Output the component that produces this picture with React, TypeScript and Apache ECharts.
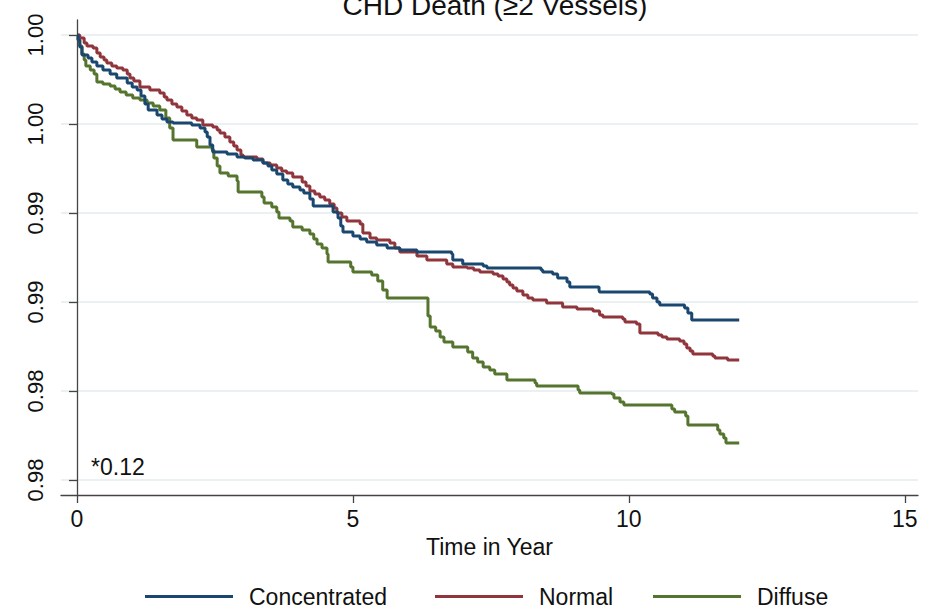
import React, { useEffect, useRef } from "react";
import * as echarts from "echarts";

const seriesNames = ["Concentrated", "Normal", "Diffuse"];
const seriesColors = ["#1a476f", "#90353b", "#55752f"];

const xTickValues = [0, 5, 10, 15];
const yTickValues = [0.975, 0.98, 0.985, 0.99, 0.995, 1.0];
const yTickLabels = ["0.98", "0.98", "0.99", "0.99", "1.00", "1.00"];

const concentrated: [number, number][] = [
  [0, 1.0], [0.02, 0.99972], [0.05, 0.99933], [0.09, 0.99888], [0.2, 0.99871], [0.27, 0.99848],
  [0.36, 0.99826], [0.47, 0.99803], [0.6, 0.99781], [0.72, 0.99758], [0.91, 0.9973], [1.0, 0.99708],
  [1.09, 0.99691], [1.16, 0.99657], [1.23, 0.99612], [1.29, 0.99579], [1.45, 0.99551], [1.54, 0.99528],
  [1.63, 0.99511], [1.74, 0.99506], [2.08, 0.99494], [2.23, 0.99478], [2.32, 0.99455], [2.36, 0.99427],
  [2.41, 0.99382], [2.46, 0.99343], [2.72, 0.99331], [2.9, 0.99315], [3.04, 0.99309], [3.19, 0.99298],
  [3.37, 0.99281], [3.46, 0.99264], [3.53, 0.99242], [3.62, 0.99219], [3.73, 0.99185], [3.82, 0.99163],
  [3.91, 0.99146], [4.04, 0.99129], [4.11, 0.99112], [4.22, 0.99079], [4.28, 0.99039], [4.64, 0.99006],
  [4.73, 0.98972], [4.78, 0.98927], [4.82, 0.98893], [5.0, 0.98871], [5.13, 0.98854], [5.25, 0.98837],
  [5.43, 0.9882], [5.62, 0.98803], [5.85, 0.98792], [6.16, 0.98781], [6.79, 0.9877], [6.81, 0.98736],
  [6.99, 0.98713], [7.36, 0.98702], [7.43, 0.98691], [8.41, 0.9868], [8.44, 0.98669], [8.62, 0.98657],
  [8.71, 0.98635], [8.88, 0.98612], [8.93, 0.98584], [9.46, 0.98567], [9.47, 0.98556], [10.38, 0.98545],
  [10.43, 0.98522], [10.51, 0.985], [10.56, 0.98483], [11.01, 0.98466], [11.07, 0.98438], [11.14, 0.98399],
  [12.0, 0.98399],
];

const normal: [number, number][] = [
  [0, 1.0], [0.05, 0.99983], [0.13, 0.99955], [0.18, 0.99938], [0.29, 0.99927], [0.36, 0.99899],
  [0.42, 0.99876], [0.49, 0.9986], [0.54, 0.99843], [0.63, 0.99826], [0.72, 0.99815], [0.83, 0.99803],
  [0.91, 0.99781], [0.96, 0.99758], [1.03, 0.99742], [1.14, 0.99708], [1.32, 0.99691], [1.5, 0.99674],
  [1.58, 0.99652], [1.63, 0.99635], [1.72, 0.99612], [1.81, 0.99596], [1.9, 0.99573], [1.99, 0.99551],
  [2.08, 0.99534], [2.17, 0.99522], [2.28, 0.99494], [2.46, 0.99483], [2.54, 0.99466], [2.59, 0.99449],
  [2.68, 0.99427], [2.77, 0.99399], [2.84, 0.99376], [2.9, 0.99354], [2.97, 0.99326], [3.01, 0.99315],
  [3.26, 0.99303], [3.37, 0.99281], [3.5, 0.9927], [3.62, 0.99253], [3.71, 0.99236], [3.8, 0.99225],
  [3.91, 0.99202], [4.08, 0.99174], [4.15, 0.99152], [4.22, 0.99124], [4.31, 0.99107], [4.4, 0.9909],
  [4.49, 0.99073], [4.58, 0.99051], [4.66, 0.99028], [4.71, 0.99], [4.8, 0.98978], [4.89, 0.98955],
  [5.13, 0.98938], [5.18, 0.98888], [5.31, 0.9886], [5.43, 0.98848], [5.67, 0.98831], [5.76, 0.98803],
  [5.85, 0.98781], [6.16, 0.98758], [6.34, 0.98736], [6.7, 0.98713], [6.81, 0.98697], [7.07, 0.98691],
  [7.19, 0.9868], [7.3, 0.98669], [7.54, 0.98657], [7.63, 0.98646], [7.72, 0.98629], [7.79, 0.98612],
  [7.84, 0.98596], [7.9, 0.98579], [7.97, 0.98562], [8.08, 0.98539], [8.17, 0.98522], [8.26, 0.98511],
  [8.51, 0.98494], [8.8, 0.98472], [9.06, 0.98461], [9.35, 0.98449], [9.47, 0.98427], [9.53, 0.98416],
  [9.89, 0.98404], [9.93, 0.98388], [10.14, 0.98376], [10.2, 0.98326], [10.53, 0.98315], [10.6, 0.98303],
  [10.69, 0.98292], [10.92, 0.98281], [11.0, 0.98264], [11.05, 0.98242], [11.11, 0.98225], [11.16, 0.98208],
  [11.52, 0.98197], [11.56, 0.98185], [11.79, 0.98174], [12.0, 0.98174],
];

const diffuse: [number, number][] = [
  [0, 1.0], [0.02, 0.99972], [0.05, 0.99938], [0.09, 0.99893], [0.13, 0.9986], [0.16, 0.99826],
  [0.24, 0.99803], [0.31, 0.99781], [0.36, 0.99736], [0.47, 0.99725], [0.6, 0.99713], [0.69, 0.99697],
  [0.78, 0.9968], [0.89, 0.99663], [1.01, 0.99646], [1.14, 0.99635], [1.27, 0.99618], [1.38, 0.99601],
  [1.5, 0.99579], [1.61, 0.99534], [1.68, 0.99478], [1.74, 0.9941], [2.17, 0.99371], [2.45, 0.99354],
  [2.48, 0.99309], [2.54, 0.99264], [2.59, 0.99225], [2.74, 0.99208], [2.9, 0.9918], [2.92, 0.99118],
  [3.35, 0.9909], [3.39, 0.99056], [3.53, 0.99034], [3.62, 0.99006], [3.66, 0.98972], [3.86, 0.98955],
  [3.91, 0.98921], [4.08, 0.98904], [4.22, 0.98882], [4.29, 0.98854], [4.35, 0.98826], [4.44, 0.98803],
  [4.53, 0.9877], [4.55, 0.98725], [4.96, 0.98697], [5.0, 0.98669], [5.34, 0.98652], [5.45, 0.98618],
  [5.54, 0.98567], [5.62, 0.98522], [6.36, 0.98421], [6.4, 0.9836], [6.5, 0.98337], [6.58, 0.98303],
  [6.65, 0.98275], [6.81, 0.98247], [7.08, 0.98219], [7.17, 0.98185], [7.26, 0.98163], [7.36, 0.98135],
  [7.48, 0.98118], [7.57, 0.98096], [7.79, 0.98062], [8.3, 0.98045], [8.33, 0.98028], [9.08, 0.98006],
  [9.11, 0.97989], [9.69, 0.97983], [9.73, 0.97961], [9.84, 0.97938], [9.91, 0.97921], [10.78, 0.97899],
  [10.83, 0.97882], [11.03, 0.9786], [11.07, 0.97809], [11.61, 0.97781], [11.65, 0.97758], [11.72, 0.97736],
  [11.76, 0.97708], [12.0, 0.97708],
];

const seriesData = [concentrated, normal, diffuse];

const FONT = "'Liberation Sans', Arial, Helvetica, sans-serif";
const legendLefts = [140, 430, 648];

export default function App() {
  const ref = useRef<HTMLDivElement>(null);
  useEffect(() => {
    if (!ref.current) return;
    const chart = echarts.init(ref.current, null, { renderer: "svg" });
    chart.setOption({
      animation: false,
      backgroundColor: "#ffffff",
      textStyle: { fontFamily: FONT },
      title: {
        text: "CHD Death (\u22652 Vessels)",
        left: 490,
        top: -14,
        textAlign: "center",
        textStyle: { fontSize: 28, fontWeight: "normal", color: "#111", fontFamily: FONT },
      },
      grid: { left: 61, right: 13, top: 20, bottom: 118, containLabel: false, outerBoundsMode: "none" },
      legend: seriesNames.map((n, i) => ({
        left: legendLefts[i],
        top: 580,
        icon: "rect",
        itemWidth: 88,
        itemHeight: 3,
        data: [n],
        textStyle: { fontSize: 23, color: "#111", fontFamily: FONT, padding: [0, 0, 0, 11] },
      })),
      xAxis: {
        type: "value",
        min: -0.29,
        max: 15.24,
        name: "Time in Year",
        nameLocation: "middle",
        nameGap: 40,
        nameTextStyle: { fontSize: 23, color: "#111", fontFamily: FONT },
        axisLine: { show: true, lineStyle: { color: "#444", width: 1.3 } },
        axisTick: { show: true, length: 8, customValues: xTickValues, lineStyle: { color: "#444", width: 1.3 } },
        axisLabel: { customValues: xTickValues, fontSize: 23, color: "#111", margin: 12, fontFamily: FONT },
        splitLine: { show: false },
      },
      yAxis: {
        type: "value",
        min: 0.974157,
        max: 1.000843,
        axisLine: { show: true, lineStyle: { color: "#444", width: 1.3 } },
        axisTick: { show: true, length: 8, customValues: yTickValues, lineStyle: { color: "#444", width: 1.3 } },
        axisLabel: {
          customValues: yTickValues,
          rotate: 90,
          fontSize: 22,
          color: "#111",
          margin: 15,
          fontFamily: FONT,
          formatter: (v: number) => {
            const i = Math.round((v - 0.975) / 0.005);
            return yTickLabels[i] ?? "";
          },
        },
        splitLine: { show: true, lineStyle: { color: "#e4ecee", width: 1.5 } },
      },
      graphic: [
        {
          type: "text",
          left: 91,
          top: 455,
          style: { text: "*0.12", fontSize: 23, fill: "#111", fontFamily: FONT },
        },
      ],
      series: seriesData.map((d, i) => ({
        name: seriesNames[i],
        type: "line",
        step: "end",
        data: d,
        symbol: "none",
        lineStyle: { color: seriesColors[i], width: 3 },
        itemStyle: { color: seriesColors[i] },
        z: 3 - i,
      })),
    });
    return () => chart.dispose();
  }, []);
  return (
    <div
      ref={ref}
      style={{ position: "fixed", left: 0, top: 0, width: 931, height: 613, background: "#fff" }}
    />
  );
}
